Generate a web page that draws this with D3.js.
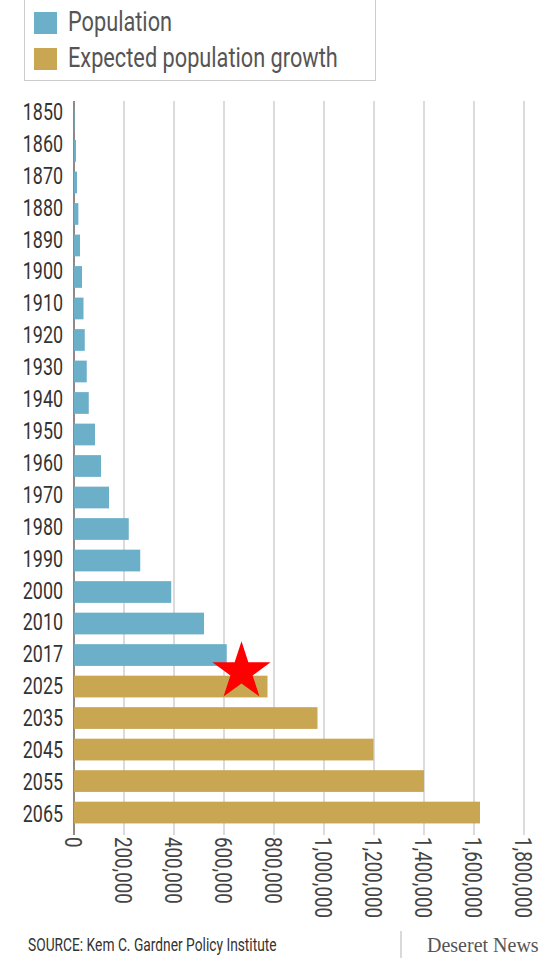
<!DOCTYPE html>
<html>
<head>
<meta charset="utf-8">
<script src="https://cdn.jsdelivr.net/npm/d3@7"></script>
<style>
  html, body { margin: 0; padding: 0; background: #fff; }
  svg { display: block; }
  .cond { font-family: "Liberation Sans Narrow", Roboto, sans-serif; }
</style>
</head>
<body>
<svg id="chart"></svg>
<script>
// Population (blue) and projected population (gold)
const popYears = ["1850", "1860", "1870", "1880", "1890", "1900", "1910", "1920", "1930",
  "1940", "1950", "1960", "1970", "1980", "1990", "2000", "2010", "2017"];
const popValues = [2000, 8000, 12000, 17500, 24000, 32000, 38000, 43000, 51000,
  59000, 84000, 108000, 140000, 219000, 265000, 389000, 520000, 611000];
const projYears = ["2025", "2035", "2045", "2055", "2065"];
const projValues = [774000, 974000, 1198000, 1400000, 1624000];

const xTicks = [0, 200000, 400000, 600000, 800000, 1000000, 1200000, 1400000, 1600000, 1800000];
const legendLabels = ["Population", "Expected population growth"];
const source = "SOURCE: Kem C. Gardner Policy Institute";
const credit = "Deseret News";
const starValue = 670000; // annotation star, between 2017 and 2025

const blue = "#6cafc9", gold = "#c9a652";

const width = 547, height = 961;
const svg = d3.select("#chart").attr("width", width).attr("height", height);

// squeeze text horizontally so it looks like the condensed face in the original
function condense(sel, k) {
  sel.each(function () {
    const len = this.getComputedTextLength();
    d3.select(this).attr("textLength", len * k).attr("lengthAdjust", "spacingAndGlyphs");
  });
}

const rows = popYears.map((y, i) => ({ year: y, value: popValues[i], kind: "pop" }))
  .concat(projYears.map((y, i) => ({ year: y, value: projValues[i], kind: "proj" })));

const x = d3.scaleLinear().domain([0, 1800000]).range([74, 524]);
const y = d3.scaleBand()
  .domain(rows.map(d => d.year))
  .range([104, 828])
  .paddingInner(0.31)
  .paddingOuter(0.145);
// labels in the original sit on a slightly wider spacing than the bars
const yLabel = d3.scalePoint().domain(y.domain()).range([111.5, 813.5]);

// gridlines
svg.append("g")
  .selectAll("line")
  .data(xTicks.slice(1))
  .join("line")
  .attr("x1", d => x(d)).attr("x2", d => x(d))
  .attr("y1", 101).attr("y2", 835)
  .attr("stroke", "#cfcfcf")
  .attr("stroke-width", 1.5);

// axis line at zero
svg.append("line")
  .attr("x1", x(0)).attr("x2", x(0))
  .attr("y1", 101).attr("y2", 835)
  .attr("stroke", "#6b625c")
  .attr("stroke-width", 1.5);

// bars
svg.append("g")
  .selectAll("rect")
  .data(rows)
  .join("rect")
  .attr("x", x(0))
  .attr("y", d => y(d.year))
  .attr("width", d => x(d.value) - x(0))
  .attr("height", y.bandwidth())
  .attr("fill", d => d.kind === "pop" ? blue : gold);

// year labels
svg.append("g")
  .attr("class", "cond")
  .selectAll("text")
  .data(rows)
  .join("text")
  .attr("x", 63)
  .attr("y", d => yLabel(d.year))
  .attr("dy", "0.35em")
  .attr("text-anchor", "end")
  .attr("fill", "#333")
  .style("font-size", "24px")
  .text(d => d.year)
  .call(condense, 0.745);

// x tick labels, rotated
svg.append("g")
  .attr("class", "cond")
  .selectAll("text")
  .data(xTicks)
  .join("text")
  .attr("transform", d => `translate(${x(d)},837) rotate(90)`)
  .attr("dy", "0.36em")
  .attr("fill", "#444")
  .style("font-size", "24px")
  .text(d => d3.format(",")(d))
  .call(condense, 0.78);

// star annotation
const starY = (y("2017") + y.bandwidth() + y("2025")) / 2;
svg.append("path")
  .attr("d", d3.symbol(d3.symbolStar, 1050)())
  .attr("transform", `translate(${x(starValue)},${starY + 1})`)
  .attr("fill", "#ff0000");

// legend
const legend = svg.append("g");
legend.append("rect")
  .attr("x", 24.5).attr("y", -10)
  .attr("width", 351).attr("height", 90.5)
  .attr("fill", "#fff")
  .attr("stroke", "#cccccc");
legend.selectAll("rect.sw")
  .data(legendLabels)
  .join("rect")
  .attr("class", "sw")
  .attr("x", 34).attr("y", (d, i) => 12 + i * 36)
  .attr("width", 23).attr("height", 22)
  .attr("fill", (d, i) => i === 0 ? blue : gold);
legend.selectAll("text")
  .data(legendLabels)
  .join("text")
  .attr("class", "cond")
  .attr("x", 68).attr("y", (d, i) => 22 + i * 36)
  .attr("dy", "0.35em")
  .attr("fill", "#555")
  .style("font-size", "27px")
  .text(d => d)
  .call(condense, 0.805);

// footer
svg.append("text")
  .attr("class", "cond")
  .attr("x", 28).attr("y", 951)
  .attr("fill", "#333")
  .style("font-size", "19px")
  .text(source)
  .call(condense, 0.725);
svg.append("line")
  .attr("x1", 401).attr("x2", 401)
  .attr("y1", 931).attr("y2", 958)
  .attr("stroke", "#cccccc")
  .attr("stroke-width", 1.5);
svg.append("text")
  .attr("x", 427).attr("y", 952)
  .attr("fill", "#555")
  .style("font-family", "'Liberation Serif', 'DejaVu Serif', serif")
  .style("font-size", "20px")
  .text(credit);
</script>
</body>
</html>
